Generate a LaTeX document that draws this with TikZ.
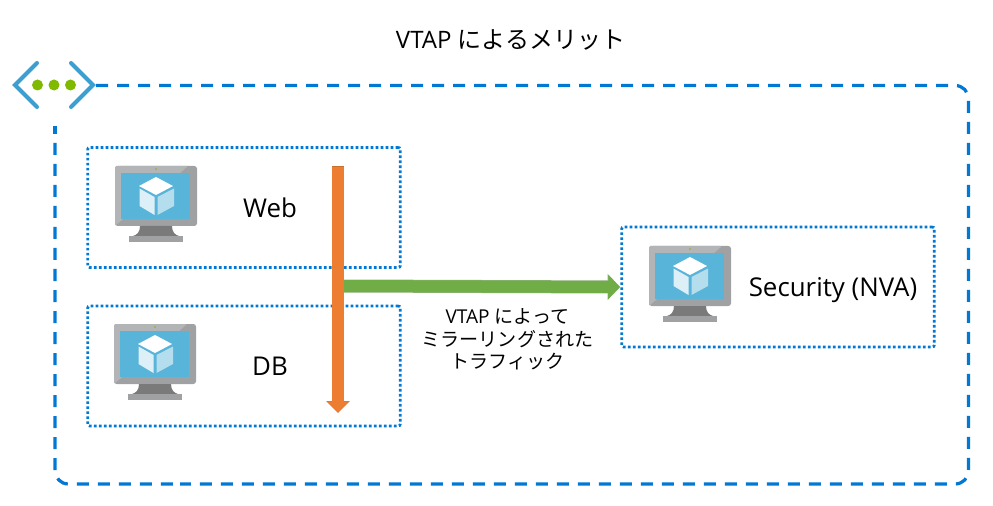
\documentclass[tikz,border=0pt]{standalone}
\usepackage{fontspec}
\setmainfont{Open Sans}
\newfontfamily\cjk{Noto Sans CJK JP}
\usetikzlibrary{arrows.meta}
\definecolor{azureblue}{HTML}{0078D4}
\definecolor{iconblue}{HTML}{3C9FCF}
\definecolor{icongreen}{HTML}{7FBA00}
\definecolor{screenblue}{HTML}{59B4D9}
\definecolor{orangefill}{HTML}{ED7D31}
\definecolor{orangeedge}{HTML}{C9702F}
\definecolor{greenfill}{HTML}{70AD47}
\definecolor{greenedge}{HTML}{8FB47A}
\definecolor{framedark}{HTML}{A0A1A2}
\definecolor{framelight}{HTML}{B3B4B5}
\definecolor{standgrey}{HTML}{7A7A7A}
\tikzset{
  x=0.75pt,y=-0.75pt,
  zonebox/.style={draw=azureblue,line width=2.1pt,dash pattern=on 2pt off 1.75pt,rounded corners=1.5pt,inner sep=0pt,minimum width=234.5pt,minimum height=90pt},
  vnetline/.style={draw=azureblue,line width=2.4pt,dash pattern=on 9pt off 6.75pt,rounded corners=10pt},
  caption/.style={inner sep=0pt,font=\fontsize{19.4pt}{24pt}\selectfont,text=black},
  chevron/.style={draw=iconblue,line width=3pt,line cap=round,line join=miter},
  pics/monitor/.style={code={
    \fill[framedark,rounded corners=2pt] (0,0) rectangle (82,60);
    \fill[framelight,rounded corners=1pt] (0,60) -- (0,0) -- (73,0) -- (64,8) -- (8,53) -- cycle;
    \fill[standgrey] (25,60) -- (57,60) .. controls (57,66) and (60,69) .. (64,70) -- (18,70) .. controls (22,69) and (25,66) .. (25,60) -- cycle;
    \fill[framedark] (14,70) rectangle (68,76);
    \fill[screenblue] (6,7) rectangle (75,53);
    \fill[icongreen] (41,3) circle (0.9);
    \fill[white] (41,11) -- (58,20) -- (41,29) -- (24,20) -- cycle;
    \fill[white!80!screenblue] (24.5,22.5) -- (39.5,31) -- (39.5,49) -- (24.5,40) -- cycle;
    \fill[white!55!screenblue] (59,22.5) -- (42.5,31) -- (42.5,49) -- (59,40) -- cycle;
  }}
}
\begin{document}
\begin{tikzpicture}
\useasboundingbox (0,0) rectangle (993,506);
\fill[white] (0,0) rectangle (993,506);

% virtual network frame
\coordinate (frameStart) at (96,85.5);
\coordinate (frameMid) at (180,484);
\coordinate (frameGapA) at (55,126);
\coordinate (frameGapB) at (55,134);
\coordinate (frameLeft) at (55,143);
\draw[vnetline] (frameStart) -- (968.5,85.5) -- (968.5,484) -- (frameMid);
\draw[vnetline] (frameLeft) -- (55,484) -- (frameMid);
\draw[azureblue,line width=2.4pt] (frameGapA) -- (frameGapB);

% network icon
\draw[chevron] (37,63) -- (15,85) -- (37,107);
\draw[chevron] (71,63) -- (93,85) -- (71,107);
\fill[icongreen] (37.5,85) circle (5.5) (54,85) circle (5.5) (70.5,85) circle (5.5);

% subnets
\node[zonebox] (web) at (244,207.5) {};
\node[zonebox] (db) at (244,366) {};
\node[zonebox] (sec) at (778,287) {};

% monitors
\pic at (115,166) {monitor};
\pic at (114,324) {monitor};
\pic at (649,246) {monitor};

% labels
\node[inner sep=0pt,font=\fontsize{18pt}{22pt}\selectfont] (title) at (510.5,40) {VTAP {\cjk によるメリット}};
\node[caption] (webt) at (270,208) {Web};
\node[caption] (dbt) at (270,366) {DB};
\node[caption] (sect) at (833,290) {Security (NVA)};
\node[inner sep=0pt,align=center,font=\fontsize{14.3pt}{17pt}\selectfont] (mirror) at (507.5,339.5)
  {VTAP {\cjk によって}\\{\cjk ミラーリングされた}\\{\cjk トラフィック}};

% arrows
\coordinate (tapTop) at (338,166);
\coordinate (tapBottom) at (338,413);
\coordinate (mirrorStart) at (344,286);
\draw[line width=9.75pt,greenedge,-{Triangle[length=9.5pt,width=19pt,sep=0pt]}] (mirrorStart) -- (sec.west);
\draw[line width=9pt,greenfill,-{Triangle[length=8.6pt,width=17.8pt,sep=0pt]}] (mirrorStart) -- ([xshift=-0.4pt]sec.west);
\draw[line width=9pt,orangeedge,-{Triangle[length=9pt,width=17.2pt,sep=0pt]}] (tapTop) -- (tapBottom);
\draw[line width=8.3pt,orangefill,-{Triangle[length=8.2pt,width=16pt,sep=0pt]}] ([yshift=-0.4pt]tapTop) -- ([yshift=0.5pt]tapBottom);
\end{tikzpicture}
\end{document}
